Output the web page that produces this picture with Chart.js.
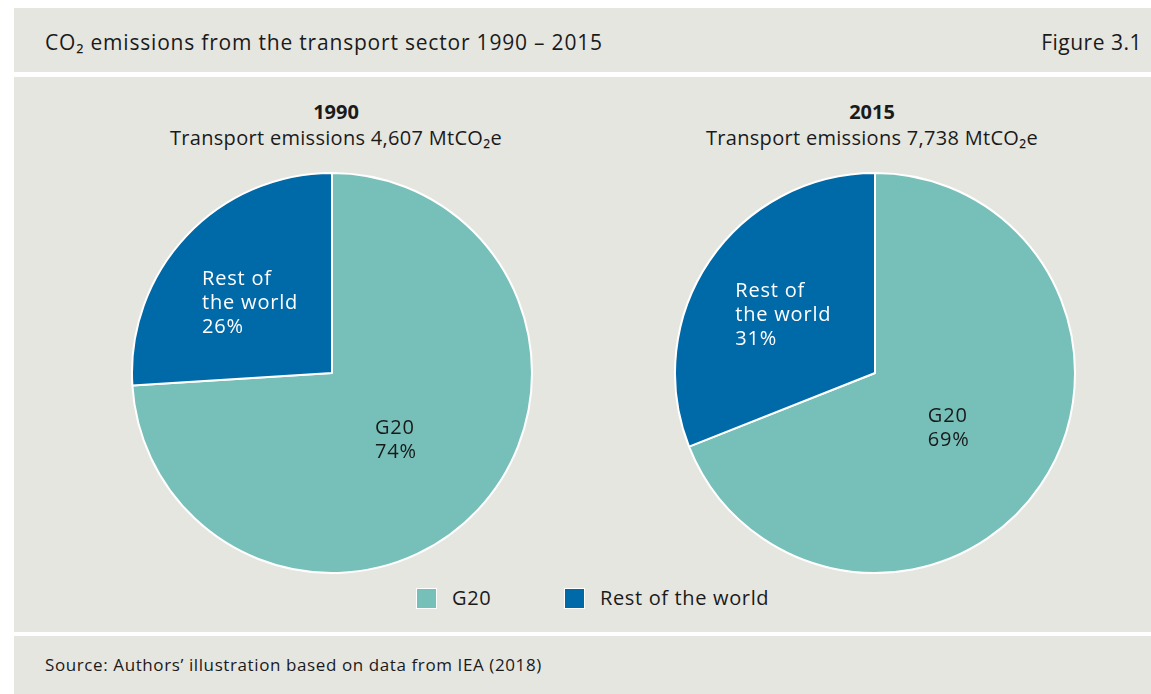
<!DOCTYPE html>
<html>
<head>
<meta charset="utf-8">
<script src="https://cdn.jsdelivr.net/npm/chart.js@4.4.0/dist/chart.umd.min.js"></script>
<style>
  html, body { margin: 0; padding: 0; background: #ffffff; width: 1151px; height: 694px; overflow: hidden; }
  body { font-family: "Open Sans", "Noto Sans", sans-serif; color: #1a1a1a; position: relative; }
  .panel { position: absolute; left: 14px; right: 0; background: #e6e6e1; }
  #hdr { top: 8px; height: 64px; }
  #main { top: 77px; height: 555px; }
  #ftr { top: 636px; height: 58px; }
  #title { position: absolute; left: 45px; top: 28px; font-size: 21px; line-height: 28px; letter-spacing: 0.8px; }
  #fig { position: absolute; right: 9px; top: 28px; font-size: 21px; line-height: 28px; letter-spacing: 0.5px; }
  .ptitle { position: absolute; width: 500px; text-align: center; font-size: 20px; line-height: 26px; letter-spacing: 0.3px; }
  .ptitle b { font-weight: 700; letter-spacing: 0; }
  .pie { position: absolute; width: 402px; height: 402px; }
  #legend { position: absolute; top: 586px; left: 0; width: 1151px; height: 26px; }
  .lg { position: absolute; display: flex; align-items: center; font-size: 20px; line-height: 24px; letter-spacing: 0.65px; }
  .sw { width: 19px; height: 19px; border: 1px solid #fff; margin-right: 15px; }
  #src { position: absolute; left: 45px; top: 653px; font-size: 17px; line-height: 24px; letter-spacing: 0.6px; }
</style>
</head>
<body>
<div class="panel" id="hdr"></div>
<div class="panel" id="main"></div>
<div class="panel" id="ftr"></div>
<div id="title">CO₂ emissions from the transport sector 1990 – 2015</div>
<div id="fig">Figure 3.1</div>
<div class="ptitle" style="left:86px; top:99px;"><b>1990</b><br>Transport emissions 4,607 MtCO₂e</div>
<div class="ptitle" style="left:622px; top:99px;"><b>2015</b><br>Transport emissions 7,738 MtCO₂e</div>
<div class="pie" style="left:131px; top:172px;"><canvas id="c1" width="402" height="402"></canvas></div>
<div class="pie" style="left:674px; top:172px;"><canvas id="c2" width="402" height="402"></canvas></div>
<div id="legend"></div>
<div id="src">Source: Authors’ illustration based on data from IEA (2018)</div>
<script>
// ---- data ----
const categories = ['G20', 'Rest of the world'];
const sliceLabelLines = [['G20'], ['Rest of', 'the world']];
const values1990 = [74, 26];
const values2015 = [69, 31];
const colors = ['#76c0b9', '#0069a8'];
const labelColors = ['#1a1a1a', '#ffffff'];

const sliceLabels = {
  id: 'sliceLabels',
  afterDatasetsDraw(chart) {
    const ctx = chart.ctx;
    const meta = chart.getDatasetMeta(0);
    const ds = chart.data.datasets[0];
    ctx.save();
    ctx.font = '20px "Open Sans", "Noto Sans", sans-serif';
    if ('letterSpacing' in ctx) ctx.letterSpacing = '0.8px';
    ctx.textBaseline = 'middle';
    ctx.textAlign = 'left';
    meta.data.forEach((arc, i) => {
      const lines = sliceLabelLines[i].concat([ds.data[i] + '%']);
      const mid = (arc.startAngle + arc.endAngle) / 2;
      const r = arc.outerRadius * 0.5;
      const cx = arc.x + Math.cos(mid) * r - 9;
      const cy = arc.y + Math.sin(mid) * r - 1;
      const w = Math.max(...lines.map(l => ctx.measureText(l).width));
      const lh = 24;
      const top = cy - (lines.length - 1) * lh / 2;
      ctx.fillStyle = labelColors[i];
      lines.forEach((l, k) => ctx.fillText(l, cx - w / 2, top + k * lh));
    });
    ctx.restore();
  }
};

function makePie(id, values) {
  return new Chart(document.getElementById(id), {
    type: 'pie',
    data: {
      labels: categories,
      datasets: [{
        data: values,
        backgroundColor: colors,
        borderColor: '#ffffff',
        borderWidth: 2
      }]
    },
    options: {
      responsive: false,
      animation: false,
      layout: { padding: 0 },
      plugins: { legend: { display: false }, tooltip: { enabled: false } }
    },
    plugins: [sliceLabels]
  });
}
makePie('c1', values1990);
makePie('c2', values2015);

// legend
const legend = document.getElementById('legend');
const legendX = [416, 564];
categories.forEach((c, i) => {
  const d = document.createElement('div');
  d.className = 'lg';
  d.style.left = legendX[i] + 'px';
  d.innerHTML = '<div class="sw" style="background:' + colors[i] + '"></div><span>' + c + '</span>';
  legend.appendChild(d);
});
</script>
</body>
</html>
